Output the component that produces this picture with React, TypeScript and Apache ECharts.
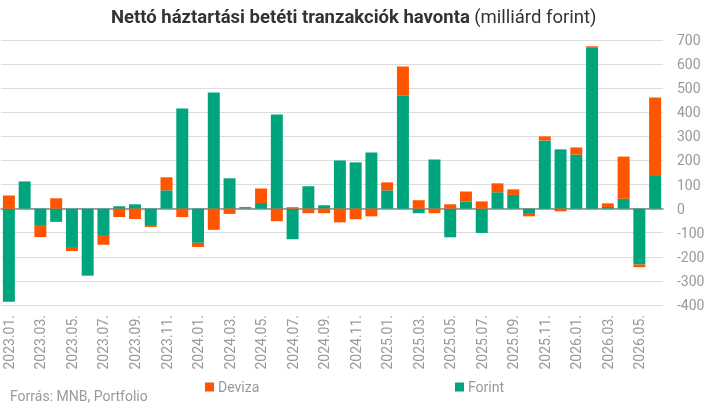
import React, { useRef, useEffect } from 'react'
import * as echarts from 'echarts'

// hónapok 2023.01 - 2026.06
const months = [
  '2023.01.', '2023.02.', '2023.03.', '2023.04.', '2023.05.', '2023.06.',
  '2023.07.', '2023.08.', '2023.09.', '2023.10.', '2023.11.', '2023.12.',
  '2024.01.', '2024.02.', '2024.03.', '2024.04.', '2024.05.', '2024.06.',
  '2024.07.', '2024.08.', '2024.09.', '2024.10.', '2024.11.', '2024.12.',
  '2025.01.', '2025.02.', '2025.03.', '2025.04.', '2025.05.', '2025.06.',
  '2025.07.', '2025.08.', '2025.09.', '2025.10.', '2025.11.', '2025.12.',
  '2026.01.', '2026.02.', '2026.03.', '2026.04.', '2026.05.', '2026.06.',
]

const forint = [
  -387, 113, -68, -55, -159, -275, -109, 10, 18, -68, 76, 416,
  -142, 482, 126, 2, 23, 391, -127, 93, 14, 200, 192, 233,
  76, 471, -19, 204, -119, 30, -101, 68, 57, -18, 283, 246,
  225, 670, 7, 41, -232, 139,
]

const deviza = [
  55, 0, -50, 43, -17, -4, -41, -35, -43, -8, 54, -35,
  -17, -88, -22, 5, 61, -52, 6, -19, -19, -57, -44, -32,
  33, 119, 35, -19, 18, 41, 30, 37, 23, -14, 17, -11,
  29, 4, 15, 175, -11, 322,
]

const yTicks = { min: -400, max: 700, interval: 100 }

const FONT = 'Roboto'

function App() {
  const chartRef = useRef(null)

  useEffect(() => {
    const chart = echarts.init(chartRef.current, null, { renderer: 'svg' })

    const option = {
      animation: false,
      textStyle: { fontFamily: FONT },
      title: {
        left: 106,
        top: 2,
        text: '{b|Nettó háztartási betéti tranzakciók havonta} {n|(milliárd forint)}',
        textStyle: {
          fontWeight: 'normal',
          rich: {
            b: { fontFamily: FONT, fontSize: 18.5, fontWeight: 'bold', color: '#333' },
            n: { fontFamily: FONT, fontSize: 18.5, fontWeight: 'normal', color: '#333' },
          },
        },
      },
      legend: [
        {
          data: ['Deviza'],
          left: 200,
          top: 375,
          itemWidth: 9,
          itemHeight: 9,
          icon: 'rect',
          textStyle: { fontFamily: FONT, fontSize: 14, color: '#999', padding: [0, 0, 0, -1] },
        },
        {
          data: ['Forint'],
          left: 450,
          top: 375,
          itemWidth: 9,
          itemHeight: 9,
          icon: 'rect',
          textStyle: { fontFamily: FONT, fontSize: 14, color: '#999', padding: [0, 0, 0, -1] },
        },
      ],
      graphic: [
        {
          type: 'text',
          left: 10,
          top: 389,
          style: { text: 'Forrás: MNB, Portfolio', fontFamily: FONT, fontSize: 14, fill: '#999' },
        },
      ],
      grid: { left: 1, right: 55, top: 40, bottom: 103, containLabel: false },
      xAxis: {
        type: 'category',
        data: months,
        axisLine: { onZero: true, lineStyle: { color: '#888', width: 1.5 } },
        axisTick: { show: false },
        axisLabel: {
          interval: 1,
          rotate: 90,
          margin: 10,
          fontFamily: FONT,
          fontSize: 14,
          color: '#999',
        },
      },
      yAxis: {
        type: 'value',
        position: 'right',
        min: yTicks.min,
        max: yTicks.max,
        interval: yTicks.interval,
        axisLine: { show: false },
        axisTick: { show: false },
        axisLabel: { margin: 14, fontFamily: FONT, fontSize: 14, color: '#999' },
        splitLine: { lineStyle: { color: '#ddd', width: 1 } },
      },
      series: [
        {
          name: 'Forint',
          type: 'bar',
          stack: 'total',
          data: forint,
          barCategoryGap: '24%',
          itemStyle: { color: '#00A57E' },
        },
        {
          name: 'Deviza',
          type: 'bar',
          stack: 'total',
          data: deviza,
          itemStyle: { color: '#FF5500' },
        },
      ],
    }

    chart.setOption(option)

    return () => {
      chart.dispose()
    }
  }, [])

  return (
    <div
      ref={chartRef}
      style={{ position: 'fixed', left: 0, top: 0, width: 718, height: 408 }}
    ></div>
  )
}

export default App
